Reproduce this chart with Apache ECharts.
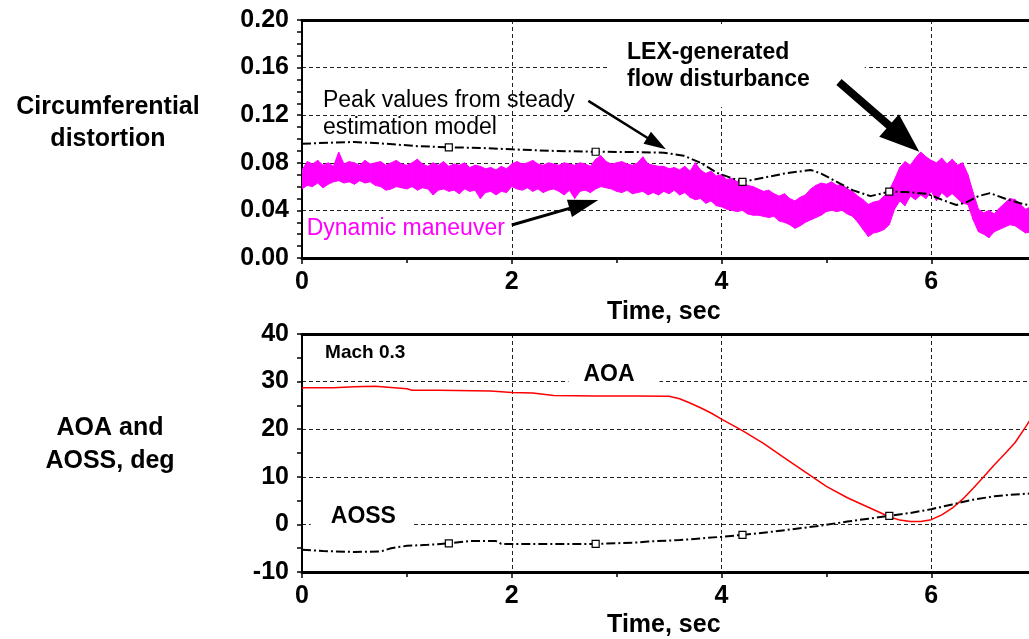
<!DOCTYPE html>
<html>
<head>
<meta charset="utf-8">
<script src="https://cdn.jsdelivr.net/npm/echarts@6/dist/echarts.min.js"></script>
<style>
  html, body { margin: 0; padding: 0; background: #fff; }
  #chart { width: 1029px; height: 639px; }
</style>
</head>
<body>
<div id="chart"></div>
<script>
// ---- top panel: circumferential distortion ----
// dynamic maneuver, read as upper / lower envelope of the noisy trace
const dynT = [
  0.00, 0.05, 0.10, 0.15, 0.20, 0.25, 0.30, 0.35, 0.40, 0.45, 0.50, 0.55, 0.60, 0.65, 0.70, 0.75, 0.80, 0.85, 0.90, 0.95,
  1.00, 1.05, 1.10, 1.15, 1.20, 1.25, 1.30, 1.35, 1.40, 1.45, 1.50, 1.55, 1.60, 1.65, 1.70, 1.75, 1.80, 1.85, 1.90, 1.95,
  2.00, 2.05, 2.10, 2.15, 2.20, 2.25, 2.30, 2.35, 2.40, 2.45, 2.50, 2.55, 2.60, 2.65, 2.70, 2.75, 2.80, 2.85, 2.90, 2.95,
  3.00, 3.05, 3.10, 3.15, 3.20, 3.25, 3.30, 3.35, 3.40, 3.45, 3.50, 3.55, 3.60, 3.65, 3.70, 3.75, 3.80, 3.85, 3.90, 3.95,
  4.00, 4.05, 4.10, 4.15, 4.20, 4.25, 4.30, 4.35, 4.40, 4.45, 4.50, 4.55, 4.60, 4.65, 4.70, 4.75, 4.80, 4.85, 4.90, 4.95,
  5.00, 5.05, 5.10, 5.15, 5.20, 5.25, 5.30, 5.35, 5.40, 5.45, 5.50, 5.55, 5.60, 5.65, 5.70, 5.75, 5.80, 5.85, 5.90, 5.95,
  6.00, 6.05, 6.10, 6.15, 6.20, 6.25, 6.30, 6.35, 6.40, 6.45, 6.50, 6.55, 6.60, 6.65, 6.70, 6.75, 6.80, 6.85, 6.90, 6.95
];
const dynHi = [
  0.074, 0.081, 0.079, 0.082, 0.078, 0.080, 0.077, 0.089, 0.079, 0.081, 0.080, 0.078, 0.082, 0.079, 0.080, 0.081, 0.078, 0.080, 0.082, 0.079,
  0.078, 0.080, 0.083, 0.079, 0.077, 0.080, 0.078, 0.081, 0.077, 0.079, 0.078, 0.080, 0.076, 0.078, 0.077, 0.075, 0.076, 0.074, 0.077, 0.075,
  0.079, 0.081, 0.079, 0.080, 0.082, 0.079, 0.078, 0.080, 0.079, 0.078, 0.080, 0.079, 0.078, 0.080, 0.079, 0.077, 0.083, 0.086, 0.081, 0.079,
  0.080, 0.081, 0.079, 0.078, 0.080, 0.085, 0.079, 0.078, 0.077, 0.077, 0.075, 0.076, 0.074, 0.077, 0.073, 0.080, 0.074, 0.071, 0.073, 0.069,
  0.070, 0.066, 0.067, 0.064, 0.065, 0.061, 0.060, 0.058, 0.056, 0.057, 0.054, 0.052, 0.054, 0.050, 0.048, 0.051, 0.053, 0.058, 0.061, 0.063,
  0.062, 0.064, 0.061, 0.062, 0.058, 0.056, 0.052, 0.049, 0.045, 0.047, 0.048, 0.052, 0.057, 0.066, 0.076, 0.081, 0.078, 0.084, 0.089, 0.085,
  0.082, 0.080, 0.084, 0.079, 0.083, 0.078, 0.080, 0.070, 0.055, 0.041, 0.038, 0.040, 0.037, 0.042, 0.046, 0.050, 0.049, 0.045, 0.041, 0.043
];
const dynLo = [
  0.058, 0.061, 0.060, 0.063, 0.059, 0.062, 0.064, 0.065, 0.063, 0.064, 0.062, 0.065, 0.063, 0.064, 0.061, 0.060, 0.057, 0.058, 0.060, 0.059,
  0.058, 0.060, 0.057, 0.059, 0.058, 0.053, 0.057, 0.058, 0.056, 0.057, 0.054, 0.058, 0.056, 0.057, 0.050, 0.055, 0.056, 0.053, 0.056, 0.055,
  0.060, 0.058, 0.057, 0.059, 0.056, 0.058, 0.055, 0.057, 0.058, 0.056, 0.053, 0.057, 0.050, 0.056, 0.057, 0.055, 0.058, 0.060, 0.059, 0.058,
  0.056, 0.055, 0.057, 0.054, 0.055, 0.056, 0.053, 0.055, 0.053, 0.056, 0.054, 0.057, 0.053, 0.055, 0.051, 0.049, 0.050, 0.046, 0.048, 0.044,
  0.043, 0.041, 0.040, 0.039, 0.040, 0.037, 0.036, 0.036, 0.035, 0.034, 0.035, 0.031, 0.030, 0.028, 0.025, 0.027, 0.030, 0.032, 0.034, 0.036,
  0.039, 0.040, 0.039, 0.040, 0.037, 0.035, 0.030, 0.024, 0.018, 0.021, 0.022, 0.024, 0.028, 0.041, 0.048, 0.044, 0.052, 0.049, 0.053, 0.050,
  0.056, 0.048, 0.055, 0.051, 0.054, 0.050, 0.046, 0.045, 0.032, 0.022, 0.020, 0.017, 0.022, 0.024, 0.026, 0.028, 0.027, 0.024, 0.021, 0.022
];
// peak values from steady estimation model
const peakT = [0, 0.3, 0.5, 0.8, 1.1, 1.4, 1.7, 2.0, 2.4, 2.8, 3.2, 3.45, 3.64, 3.8, 3.96, 4.2, 4.43, 4.6, 4.85, 4.95,
  5.1, 5.25, 5.42, 5.6, 5.75, 5.96, 6.1, 6.24, 6.34, 6.45, 6.56, 6.7, 6.85, 6.95];
const peakV = [0.096, 0.097, 0.0975, 0.096, 0.094, 0.093, 0.0925, 0.0913, 0.090, 0.0893, 0.089, 0.0885, 0.086, 0.080, 0.0714,
  0.064, 0.068, 0.071, 0.074, 0.071, 0.064, 0.057, 0.052, 0.0557, 0.0555, 0.054, 0.049, 0.0445, 0.047, 0.052, 0.0545, 0.050, 0.046, 0.044];

// ---- bottom panel: AOA and AOSS, deg ----
const aoaT = [0, 0.3, 0.5, 0.7, 1.0, 1.05, 1.3, 1.8, 2.0, 2.2, 2.4, 2.8, 3.2, 3.5, 3.6, 3.7, 3.8, 3.9, 4.0, 4.2, 4.4, 4.6,
  4.8, 5.0, 5.2, 5.4, 5.6, 5.7, 5.8, 5.9, 6.0, 6.1, 6.2, 6.3, 6.4, 6.5, 6.6, 6.7, 6.8, 6.9, 6.95];
const aoaV = [28.7, 28.7, 28.9, 29.0, 28.5, 28.2, 28.2, 28.0, 27.7, 27.6, 27.1, 27.0, 27.0, 26.9, 26.4, 25.5, 24.5, 23.4, 22.1,
  19.7, 17.0, 14.0, 11.0, 8.0, 5.6, 3.6, 1.6, 0.9, 0.6, 0.6, 1.0, 2.0, 3.4, 5.3, 7.6, 10.0, 12.5, 14.8, 17.2, 20.5, 22.2];
const aossT = [0, 0.2, 0.5, 0.75, 0.85, 1.0, 1.2, 1.4, 1.6, 1.85, 1.9, 2.3, 2.8, 3.2, 3.3, 3.6, 4.0, 4.2, 4.5, 4.9, 5.2, 5.4,
  5.6, 5.8, 6.0, 6.2, 6.4, 6.6, 6.8, 6.95];
const aossV = [-5.3, -5.6, -5.8, -5.7, -5.0, -4.5, -4.3, -4.0, -3.5, -3.5, -4.1, -4.1, -4.1, -3.8, -3.6, -3.3, -2.6, -2.2,
  -1.5, -0.4, 0.6, 1.2, 1.8, 2.4, 3.2, 4.2, 5.2, 5.9, 6.3, 6.5];

// open square markers on the dash-dot curves
const markT = [1.4, 2.8, 4.2, 5.6];

const FONT = '"Liberation Sans", Arial, Helvetica, sans-serif';
const zip = (xs, ys) => xs.map((x, i) => [x, ys[i]]);

const chart = echarts.init(document.getElementById('chart'));

function xAxisFor(gridIndex) {
  return {
    type: 'value', gridIndex: gridIndex, min: 0, max: 8, interval: 2,
    axisLine: { onZero: false, lineStyle: { color: '#000', width: 3 } },
    axisTick: { length: 6, lineStyle: { color: '#000', width: 1.5 } },
    minorTick: { show: true, splitNumber: 2, length: 5, lineStyle: { color: '#000', width: 1.5 } },
    axisLabel: { color: '#000', fontSize: 25, fontWeight: 'bold', fontFamily: FONT, margin: 12 },
    splitLine: { show: true, lineStyle: { color: '#222', width: 1, type: [4, 3] } }
  };
}
function topBorder(gridIndex) {
  return {
    type: 'value', gridIndex: gridIndex, position: 'top', min: 0, max: 8,
    axisLine: { onZero: false, lineStyle: { color: '#000', width: 3 } },
    axisTick: { show: false }, axisLabel: { show: false }, splitLine: { show: false }
  };
}
function yAxisFor(gridIndex, min, max, interval, minorSplit, fmt) {
  return {
    type: 'value', gridIndex: gridIndex, min: min, max: max, interval: interval,
    axisLine: { show: true, onZero: false, lineStyle: { color: '#000', width: 2 } },
    axisTick: { show: true, length: 5, lineStyle: { color: '#000', width: 1.5 } },
    minorTick: { show: true, splitNumber: minorSplit, length: 5, lineStyle: { color: '#000', width: 1.5 } },
    axisLabel: { color: '#000', fontSize: 25, fontWeight: 'bold', fontFamily: FONT, margin: 13, formatter: fmt },
    splitLine: { show: true, lineStyle: { color: '#222', width: 1, type: [4, 3] } }
  };
}

const dashDot = [9, 3, 2, 3];
const squareSymbol = (v) => (markT.indexOf(v[0]) >= 0 ? 'rect' : 'none');

// band of the noisy dynamic trace: one quad per sample step
function renderDynBand(params, api) {
  const i = params.dataIndex;
  if (i >= dynT.length - 1) return null;
  const a = api.coord([dynT[i], dynHi[i]]);
  const b = api.coord([dynT[i + 1], dynHi[i + 1]]);
  const c = api.coord([dynT[i + 1], dynLo[i + 1]]);
  const d = api.coord([dynT[i], dynLo[i]]);
  return {
    type: 'polygon',
    shape: { points: [a, b, c, d] },
    style: { fill: '#ff00ff', stroke: '#ff00ff', lineWidth: 1 }
  };
}

chart.setOption({
  animation: false,
  backgroundColor: '#fff',
  grid: [
    { left: 302, top: 20, height: 238, right: -112, outerBoundsMode: 'none' },
    { left: 302, top: 334, height: 238, right: -112, outerBoundsMode: 'none' }
  ],
  xAxis: [xAxisFor(0), xAxisFor(1), topBorder(0), topBorder(1)],
  yAxis: [
    yAxisFor(0, 0, 0.2, 0.04, 4, (v) => v.toFixed(2)),
    yAxisFor(1, -10, 40, 10, 2, (v) => String(v))
  ],
  series: [
    {
      name: 'Dynamic maneuver', type: 'custom', xAxisIndex: 0, yAxisIndex: 0, clip: true, z: 3,
      data: dynT.map((t, i) => [t, dynHi[i], dynLo[i]]),
      encode: { x: 0, y: [1, 2] },
      renderItem: renderDynBand
    },
    {
      name: 'Peak values from steady estimation model', type: 'line', xAxisIndex: 0, yAxisIndex: 0,
      data: zip(peakT, peakV), symbol: squareSymbol, symbolSize: 7, showSymbol: true, z: 4,
      lineStyle: { color: '#000', width: 2, type: dashDot },
      itemStyle: { color: '#fff', borderColor: '#000', borderWidth: 1.2 }
    },
    {
      name: 'AOA', type: 'line', xAxisIndex: 1, yAxisIndex: 1,
      data: zip(aoaT, aoaV), symbol: 'none', z: 4,
      lineStyle: { color: '#ff0000', width: 1.5 }
    },
    {
      name: 'AOSS', type: 'line', xAxisIndex: 1, yAxisIndex: 1,
      data: zip(aossT, aossV), symbol: squareSymbol, symbolSize: 7, showSymbol: true, z: 4,
      lineStyle: { color: '#000', width: 2, type: dashDot },
      itemStyle: { color: '#fff', borderColor: '#000', borderWidth: 1.2 }
    }
  ]
});

// annotations, placed in data coordinates
const p0 = (t, v) => chart.convertToPixel({ gridIndex: 0 }, [t, v]);
const p1 = (t, v) => chart.convertToPixel({ gridIndex: 1 }, [t, v]);

function arrow(tail, tip, w, len, half) {
  const dx = tip[0] - tail[0], dy = tip[1] - tail[1];
  const d = Math.hypot(dx, dy);
  const ux = dx / d, uy = dy / d, nx = -uy, ny = ux;
  const bx = tip[0] - ux * len, by = tip[1] - uy * len;
  return {
    type: 'polygon', z: 20,
    shape: { points: [
      [tail[0] + nx * w / 2, tail[1] + ny * w / 2],
      [bx + nx * w / 2, by + ny * w / 2],
      [bx + nx * half, by + ny * half],
      tip,
      [bx - nx * half, by - ny * half],
      [bx - nx * w / 2, by - ny * w / 2],
      [tail[0] - nx * w / 2, tail[1] - ny * w / 2]
    ] },
    style: { fill: '#000' }
  };
}
function label(pos, text, opts) {
  return {
    type: 'text', x: pos[0], y: pos[1], z: opts.z || 20,
    style: Object.assign({
      text: text, fill: '#000', fontFamily: FONT, fontSize: 23,
      align: 'left', verticalAlign: 'middle'
    }, opts.style)
  };
}

const timeCenter = 3.45;
chart.setOption({
  graphic: [
    label([108, 123], 'Circumferential\ndistortion', { style: { fontSize: 25, fontWeight: 'bold', align: 'center', lineHeight: 32 } }),
    label([110, 445], 'AOA and\nAOSS, deg', { style: { fontSize: 25, fontWeight: 'bold', align: 'center', lineHeight: 33 } }),
    label([p0(timeCenter, 0)[0], 312], 'Time, sec', { style: { fontSize: 25, fontWeight: 'bold', align: 'center' } }),
    label([p1(timeCenter, 0)[0], 625], 'Time, sec', { style: { fontSize: 25, fontWeight: 'bold', align: 'center' } }),
    label(p0(0.2, 0.1206), 'Peak values from steady\nestimation model', { style: { lineHeight: 27 } }),
    label(p0(0.045, 0.025), 'Dynamic maneuver', { style: { fill: '#ff00ff' } }),
    label(p0(2.937, 0.161), 'LEX-generated\nflow disturbance', { z: 1, style: {
      fontWeight: 'bold', lineHeight: 27, backgroundColor: '#fff', padding: [14, 55, 13, 17] } }),
    label(p1(0.22, 36.0), 'Mach 0.3', { style: { fontSize: 19, fontWeight: 'bold' } }),
    label(p1(2.975, 31.4), 'AOA', { z: 1, style: {
      fontWeight: 'bold', align: 'center', backgroundColor: '#fff', padding: [4, 25, 6, 15] } }),
    label(p1(0.566, 1.71), 'AOSS', { z: 1, style: {
      fontWeight: 'bold', align: 'center', backgroundColor: '#fff', padding: [4, 16, 6, 20] } }),
    arrow(p0(2.73, 0.132), p0(3.47, 0.0913), 2.5, 22, 7),
    arrow(p0(2.0, 0.0277), p0(2.825, 0.0487), 3, 30, 9),
    arrow(p0(5.12, 0.1479), p0(5.886, 0.0893), 8, 40, 15)
  ]
});
</script>
</body>
</html>
